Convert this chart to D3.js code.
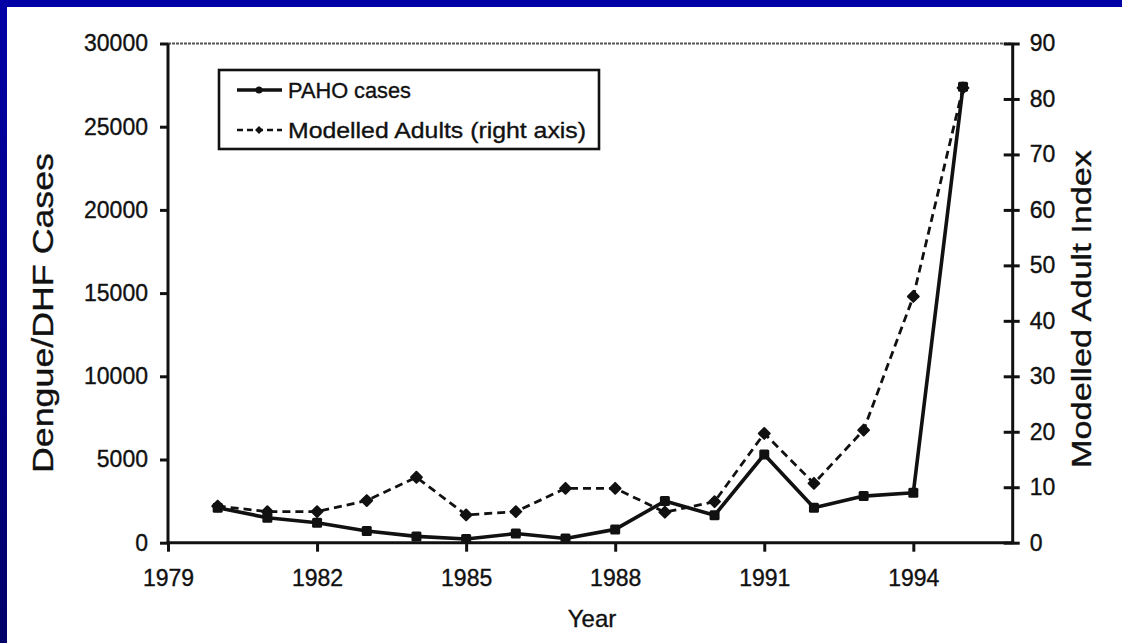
<!DOCTYPE html>
<html>
<head>
<meta charset="utf-8">
<script src="https://cdn.jsdelivr.net/npm/d3@7"></script>
<style>
  html, body { margin: 0; padding: 0; background: #fff; }
  svg { display: block; }
  text { font-family: "Liberation Sans", Arial, Helvetica, sans-serif; fill: #111; stroke: #111; stroke-width: 0.35px; }
</style>
</head>
<body>
<script>
// Annual dengue/DHF cases reported to PAHO and the modelled adult mosquito index
const years = [1980, 1981, 1982, 1983, 1984, 1985, 1986, 1987, 1988, 1989, 1990, 1991, 1992, 1993, 1994, 1995];
const pahoCases = [2100, 1500, 1200, 700, 380, 220, 550, 250, 800, 2500, 1650, 5300, 2100, 2800, 3000, 27400];
const modelledAdults = [6.6, 5.6, 5.6, 7.6, 11.8, 5.0, 5.6, 9.8, 9.8, 5.5, 7.4, 19.7, 10.7, 20.3, 44.4, 82.0];
const xTicks = [1979, 1982, 1985, 1988, 1991, 1994];
const leftTicks = [0, 5000, 10000, 15000, 20000, 25000, 30000];
const rightTicks = [0, 10, 20, 30, 40, 50, 60, 70, 80, 90];
const seriesNames = ["PAHO cases", "Modelled Adults (right axis)"];

const W = 1122, H = 643;
const svg = d3.select("body").append("svg").attr("width", W).attr("height", H);

// slide frame: blue band on top and left
const defs = svg.append("defs");
const grad = defs.append("linearGradient").attr("id", "sideBand").attr("x1", 0).attr("y1", 0).attr("x2", 0).attr("y2", 1);
grad.append("stop").attr("offset", "0%").attr("stop-color", "#0000a6");
grad.append("stop").attr("offset", "100%").attr("stop-color", "#00006a");
svg.append("rect").attr("x", 0).attr("y", 0).attr("width", W).attr("height", H).attr("fill", "#fff");
svg.append("rect").attr("x", 0).attr("y", 0).attr("width", W).attr("height", 7).attr("fill", "#0000a6");
svg.append("rect").attr("x", 0).attr("y", 0).attr("width", 7).attr("height", H).attr("fill", "url(#sideBand)");

const plotL = 168, plotR = 1012.7, plotT = 43.5, plotB = 542.7;
const x = d3.scaleLinear().domain([1979, 1996]).range([plotL, plotR]);
const yL = d3.scaleLinear().domain([0, 30000]).range([plotB, plotT]);
const yR = d3.scaleLinear().domain([0, 90]).range([plotB, plotT]);

// top frame line (thin, grey, slightly broken)
svg.append("line")
  .attr("x1", plotL).attr("x2", plotR).attr("y1", plotT).attr("y2", plotT)
  .attr("stroke", "#555").attr("stroke-width", 2).attr("stroke-dasharray", "3,1");

// left axis
const gL = svg.append("g").attr("transform", `translate(${plotL},0)`)
  .call(d3.axisLeft(yL).tickValues(leftTicks).tickFormat(d3.format("d")).tickSize(8).tickSizeOuter(0).tickPadding(12));
// bottom axis
const gB = svg.append("g").attr("transform", `translate(0,${plotB})`)
  .call(d3.axisBottom(x).tickValues(xTicks).tickFormat(d3.format("d")).tickSize(9).tickSizeOuter(0).tickPadding(18));
// right axis
const gR = svg.append("g").attr("transform", `translate(${plotR},0)`)
  .call(d3.axisRight(yR).tickValues(rightTicks).tickSize(7).tickSizeOuter(0).tickPadding(10));
gR.selectAll(".tick line").attr("x1", -9);

[gL, gB, gR].forEach(g => {
  g.select(".domain").attr("stroke", "#111").attr("stroke-width", 3);
  g.selectAll(".tick line").attr("stroke", "#111").attr("stroke-width", 3);
  g.selectAll(".tick text").attr("font-size", 23).attr("fill", "#111")
    .style("font-family", "'Liberation Sans', Arial, sans-serif");
});
gB.select(".domain").attr("d", `M${plotL - 1.5},0H${plotR + 1.5}`);
gL.select(".domain").attr("d", `M0,${plotB}V${plotT}`);
gR.select(".domain").attr("d", `M0,${plotB}V${plotT}`);

// axis titles (wide-set lettering)
svg.append("text").attr("transform", `translate(53,313) rotate(-90)`)
  .attr("text-anchor", "middle").attr("font-size", 30)
  .attr("textLength", 320).attr("lengthAdjust", "spacingAndGlyphs").text("Dengue/DHF Cases");
svg.append("text").attr("transform", `translate(1091,309) rotate(-90)`)
  .attr("text-anchor", "middle").attr("font-size", 27)
  .attr("textLength", 318).attr("lengthAdjust", "spacingAndGlyphs").text("Modelled Adult Index");
svg.append("text").attr("x", 592).attr("y", 627)
  .attr("text-anchor", "middle").attr("font-size", 24).text("Year");

// series
const lineL = d3.line().x((d, i) => x(years[i])).y(d => yL(d));
const lineR = d3.line().x((d, i) => x(years[i])).y(d => yR(d));

svg.append("path").datum(modelledAdults).attr("d", lineR)
  .attr("fill", "none").attr("stroke", "#111").attr("stroke-width", 2.8)
  .attr("stroke-dasharray", "8,5");
svg.append("path").datum(pahoCases).attr("d", lineL)
  .attr("fill", "none").attr("stroke", "#111").attr("stroke-width", 3.6).attr("stroke-linejoin", "round");

const diamond = d3.symbol().type(d3.symbolDiamond2).size(75);
svg.append("g").selectAll("path").data(modelledAdults).join("path")
  .attr("d", diamond)
  .attr("transform", (d, i) => `translate(${x(years[i])},${yR(d)})`)
  .attr("fill", "#111").attr("stroke", "#111").attr("stroke-width", 2).attr("stroke-linejoin", "round");

svg.append("g").selectAll("rect").data(pahoCases).join("rect")
  .attr("x", (d, i) => x(years[i]) - 5).attr("y", d => yL(d) - 5)
  .attr("width", 10).attr("height", 10).attr("rx", 1.5)
  .attr("fill", "#111");

// legend
const lg = svg.append("g");
lg.append("rect").attr("x", 219).attr("y", 70).attr("width", 380).attr("height", 79)
  .attr("fill", "#fff").attr("stroke", "#111").attr("stroke-width", 2.6);
const rows = [90, 130];
lg.append("line").attr("x1", 237).attr("x2", 282).attr("y1", rows[0]).attr("y2", rows[0])
  .attr("stroke", "#111").attr("stroke-width", 3.4);
lg.append("circle").attr("cx", 259).attr("cy", rows[0]).attr("r", 3.5).attr("fill", "#111");
lg.append("line").attr("x1", 237).attr("x2", 282).attr("y1", rows[1]).attr("y2", rows[1])
  .attr("stroke", "#111").attr("stroke-width", 2.4).attr("stroke-dasharray", "6,4");
lg.append("path").attr("d", d3.symbol().type(d3.symbolDiamond2).size(40))
  .attr("transform", `translate(259,${rows[1]})`).attr("fill", "#111");
const labelLen = [123, 298];
lg.selectAll("text.lab").data(seriesNames).join("text").attr("class", "lab")
  .attr("x", 288).attr("y", (d, i) => rows[i] + 8).attr("font-size", 22)
  .attr("textLength", (d, i) => labelLen[i]).attr("lengthAdjust", "spacingAndGlyphs")
  .text(d => d);
</script>
</body>
</html>
